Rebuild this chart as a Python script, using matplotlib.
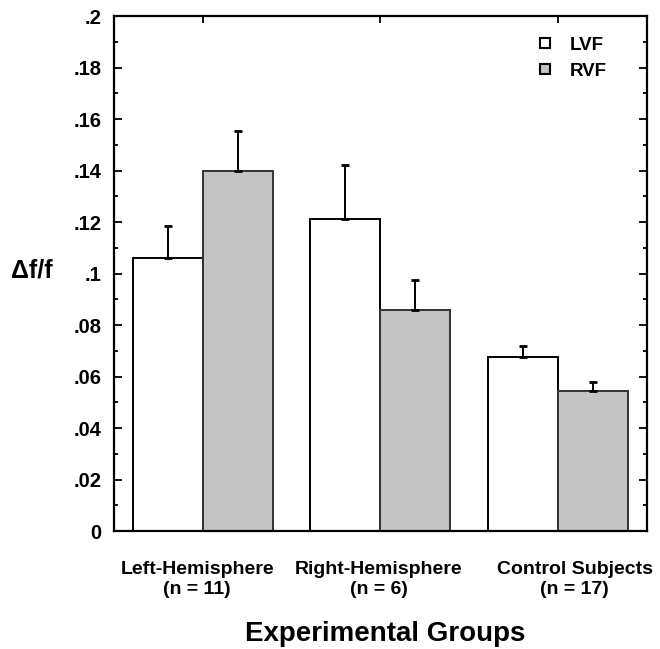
import matplotlib
matplotlib.use("Agg")
import matplotlib.pyplot as plt
from matplotlib.lines import Line2D
import numpy as np

groups = ["Left-Hemisphere\n(n = 11)", "Right-Hemisphere\n(n = 6)", "Control Subjects\n(n = 17)"]
lvf = [0.106, 0.121, 0.0675]
lvf_err = [0.0125, 0.021, 0.0045]
rvf = [0.140, 0.086, 0.0545]
rvf_err = [0.0155, 0.0115, 0.0035]
yticks = [0, 0.02, 0.04, 0.06, 0.08, 0.1, 0.12, 0.14, 0.16, 0.18, 0.2]
ytick_labels = ["0", ".02", ".04", ".06", ".08", ".1", ".12", ".14", ".16", ".18", ".2"]

plt.rcParams['font.family'] = ['Liberation Sans', 'DejaVu Sans']

fig = plt.figure(figsize=(6.6, 6.49), dpi=100)
ax = fig.add_axes([0.1727, 0.1818, 0.8073, 0.7935])

x = np.arange(len(groups))
w = 0.395
gray = "#c4c4c4"
ax.bar(x - w/2, lvf, w, color="white", edgecolor="black", linewidth=1.4,
       yerr=[np.zeros(3), lvf_err], error_kw=dict(ecolor="black", elinewidth=1.4, capsize=3, capthick=2), zorder=2)
ax.bar(x + w/2, rvf, w, color=gray, edgecolor="#333333", linewidth=1.4,
       yerr=[np.zeros(3), rvf_err], error_kw=dict(ecolor="black", elinewidth=1.4, capsize=3, capthick=2), zorder=2)

ax.set_xlim(-0.503, 2.503)
ax.set_ylim(0, 0.2)
ax.set_yticks(yticks)
ax.set_yticklabels(ytick_labels, fontsize=14.5, fontweight="bold")
ax.set_yticks(np.arange(0.01, 0.2, 0.02), minor=True)
ax.set_xticks(x)
ax.set_xticklabels([])
ax.tick_params(axis="both", which="both", direction="in", top=True, right=True, width=1.3)
ax.tick_params(axis="y", which="major", length=6, pad=9)
ax.tick_params(axis="y", which="minor", length=3)
ax.tick_params(axis="x", which="major", length=5)
for s in ax.spines.values():
    s.set_linewidth(1.6)

label_x = x + np.array([-0.034, -0.01, 0.096])
for xi, g in zip(label_x, groups):
    ax.text(xi, -0.0115, g, ha="center", va="top", fontsize=14, fontweight="bold",
            transform=ax.transData, linespacing=1.25)

ax.text(-0.116, 0.493, "Δf/f", transform=ax.transAxes, ha="right", va="baseline", fontsize=18, fontweight="bold")
fig.text(0.583, 0.012, "Experimental Groups", ha="center", va="baseline", fontsize=20, fontweight="bold")

handles = [Line2D([], [], marker="s", linestyle="none", markersize=7, markerfacecolor="white", markeredgecolor="black", markeredgewidth=1.5),
           Line2D([], [], marker="s", linestyle="none", markersize=7, markerfacecolor=gray, markeredgecolor="black", markeredgewidth=1.5)]
leg = ax.legend(handles, ["LVF", "RVF"], loc="upper left", bbox_to_anchor=(0.777, 0.974), frameon=False,
                prop=dict(size=13.5, weight="bold"), handlelength=1.0, handletextpad=0.85,
                labelspacing=0.46, borderpad=0.4, borderaxespad=0)

fig.savefig("out.png", dpi=100)
